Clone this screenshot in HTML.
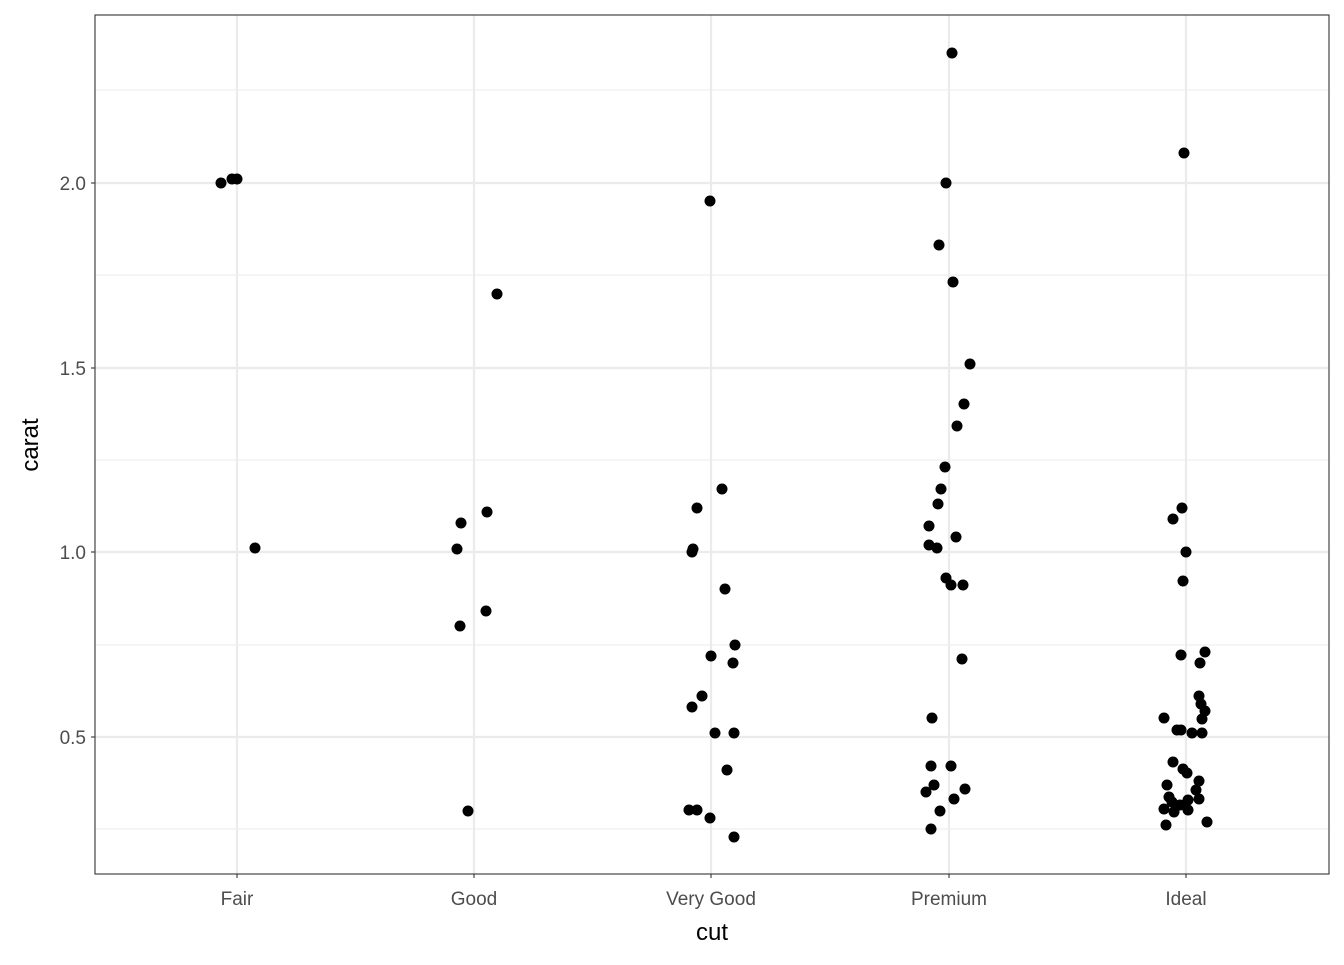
<!DOCTYPE html>
<html><head><style>body{margin:0;background:#fff}</style></head><body>
<svg width="1344" height="960" xmlns="http://www.w3.org/2000/svg" font-family="Liberation Sans, sans-serif">
<rect width="1344" height="960" fill="#fff"/>
<g stroke="#ebebeb" stroke-width="1.1">
<line x1="95" x2="1329" y1="90" y2="90"/><line x1="95" x2="1329" y1="275" y2="275"/><line x1="95" x2="1329" y1="460" y2="460"/><line x1="95" x2="1329" y1="645" y2="645"/><line x1="95" x2="1329" y1="829" y2="829"/>
</g>
<g stroke="#ebebeb" stroke-width="2.2">
<line x1="95" x2="1329" y1="183" y2="183"/><line x1="95" x2="1329" y1="368" y2="368"/><line x1="95" x2="1329" y1="552" y2="552"/><line x1="95" x2="1329" y1="737" y2="737"/>
<line y1="15" y2="874" x1="237" x2="237"/><line y1="15" y2="874" x1="474" x2="474"/><line y1="15" y2="874" x1="711" x2="711"/><line y1="15" y2="874" x1="949" x2="949"/><line y1="15" y2="874" x1="1186" x2="1186"/>
</g>
<rect x="95" y="15" width="1234" height="859" fill="none" stroke="#333" stroke-width="1.1"/>
<g stroke="#333" stroke-width="1.1">
<line x1="91" x2="95" y1="183" y2="183"/><line x1="91" x2="95" y1="368" y2="368"/><line x1="91" x2="95" y1="552" y2="552"/><line x1="91" x2="95" y1="737" y2="737"/>
<line y1="874" y2="878" x1="237" x2="237"/><line y1="874" y2="878" x1="474" x2="474"/><line y1="874" y2="878" x1="711" x2="711"/><line y1="874" y2="878" x1="949" x2="949"/><line y1="874" y2="878" x1="1186" x2="1186"/>
</g>
<g fill="#4d4d4d" font-size="19" text-anchor="end">
<text x="86" y="190">2.0</text><text x="86" y="375">1.5</text><text x="86" y="559">1.0</text><text x="86" y="744">0.5</text>
</g>
<g fill="#4d4d4d" font-size="19" text-anchor="middle">
<text x="237" y="905">Fair</text><text x="474" y="905">Good</text><text x="711" y="905">Very Good</text><text x="949" y="905">Premium</text><text x="1186" y="905">Ideal</text>
</g>
<text x="712" y="940" font-size="24" text-anchor="middle">cut</text>
<text transform="translate(38,445) rotate(-90)" font-size="24" text-anchor="middle">carat</text>
<g fill="#000">
<circle cx="221" cy="183" r="5.5"/><circle cx="232" cy="179" r="5.5"/><circle cx="237" cy="179" r="5.5"/><circle cx="255" cy="548" r="5.5"/>
<circle cx="497" cy="294" r="5.5"/><circle cx="461" cy="523" r="5.5"/><circle cx="487" cy="512" r="5.5"/><circle cx="457" cy="549" r="5.5"/><circle cx="486" cy="611" r="5.5"/><circle cx="460" cy="626" r="5.5"/><circle cx="468" cy="811" r="5.5"/>
<circle cx="710" cy="201" r="5.5"/><circle cx="697" cy="508" r="5.5"/><circle cx="722" cy="489" r="5.5"/><circle cx="693" cy="549" r="5.5"/><circle cx="692" cy="552" r="5.5"/><circle cx="725" cy="589" r="5.5"/><circle cx="735" cy="645" r="5.5"/><circle cx="711" cy="656" r="5.5"/><circle cx="733" cy="663" r="5.5"/><circle cx="702" cy="696" r="5.5"/><circle cx="692" cy="707" r="5.5"/><circle cx="715" cy="733" r="5.5"/><circle cx="734" cy="733" r="5.5"/><circle cx="727" cy="770" r="5.5"/><circle cx="689" cy="810" r="5.5"/><circle cx="697" cy="810" r="5.5"/><circle cx="710" cy="818" r="5.5"/><circle cx="734" cy="837" r="5.5"/>
<circle cx="952" cy="53" r="5.5"/><circle cx="946" cy="183" r="5.5"/><circle cx="939" cy="245" r="5.5"/><circle cx="953" cy="282" r="5.5"/><circle cx="970" cy="364" r="5.5"/><circle cx="964" cy="404" r="5.5"/><circle cx="957" cy="426" r="5.5"/><circle cx="945" cy="467" r="5.5"/><circle cx="941" cy="489" r="5.5"/><circle cx="938" cy="504" r="5.5"/><circle cx="929" cy="526" r="5.5"/><circle cx="956" cy="537" r="5.5"/><circle cx="929" cy="545" r="5.5"/><circle cx="937" cy="548" r="5.5"/><circle cx="946" cy="578" r="5.5"/><circle cx="951" cy="585" r="5.5"/><circle cx="963" cy="585" r="5.5"/><circle cx="962" cy="659" r="5.5"/><circle cx="932" cy="718" r="5.5"/><circle cx="931" cy="766" r="5.5"/><circle cx="951" cy="766" r="5.5"/><circle cx="934" cy="785" r="5.5"/><circle cx="965" cy="789" r="5.5"/><circle cx="926" cy="792" r="5.5"/><circle cx="954" cy="799" r="5.5"/><circle cx="940" cy="811" r="5.5"/><circle cx="931" cy="829" r="5.5"/>
<circle cx="1184" cy="153" r="5.5"/><circle cx="1182" cy="508" r="5.5"/><circle cx="1173" cy="519" r="5.5"/><circle cx="1186" cy="552" r="5.5"/><circle cx="1183" cy="581" r="5.5"/><circle cx="1181" cy="655" r="5.5"/><circle cx="1205" cy="652" r="5.5"/><circle cx="1200" cy="663" r="5.5"/><circle cx="1199" cy="696" r="5.5"/><circle cx="1201" cy="704" r="5.5"/><circle cx="1205" cy="711" r="5.5"/><circle cx="1202" cy="719" r="5.5"/><circle cx="1164" cy="718" r="5.5"/><circle cx="1177" cy="730" r="5.5"/><circle cx="1181" cy="730" r="5.5"/><circle cx="1192" cy="733" r="5.5"/><circle cx="1202" cy="733" r="5.5"/><circle cx="1173" cy="762" r="5.5"/><circle cx="1183" cy="769" r="5.5"/><circle cx="1187" cy="773" r="5.5"/><circle cx="1167" cy="785" r="5.5"/><circle cx="1199" cy="781" r="5.5"/><circle cx="1196" cy="790" r="5.5"/><circle cx="1169" cy="797" r="5.5"/><circle cx="1172" cy="802" r="5.5"/><circle cx="1164" cy="809" r="5.5"/><circle cx="1176" cy="806" r="5.5"/><circle cx="1180" cy="805" r="5.5"/><circle cx="1188" cy="800" r="5.5"/><circle cx="1199" cy="799" r="5.5"/><circle cx="1174" cy="812" r="5.5"/><circle cx="1188" cy="810" r="5.5"/><circle cx="1166" cy="825" r="5.5"/><circle cx="1207" cy="822" r="5.5"/>
</g>
</svg>
</body></html>
